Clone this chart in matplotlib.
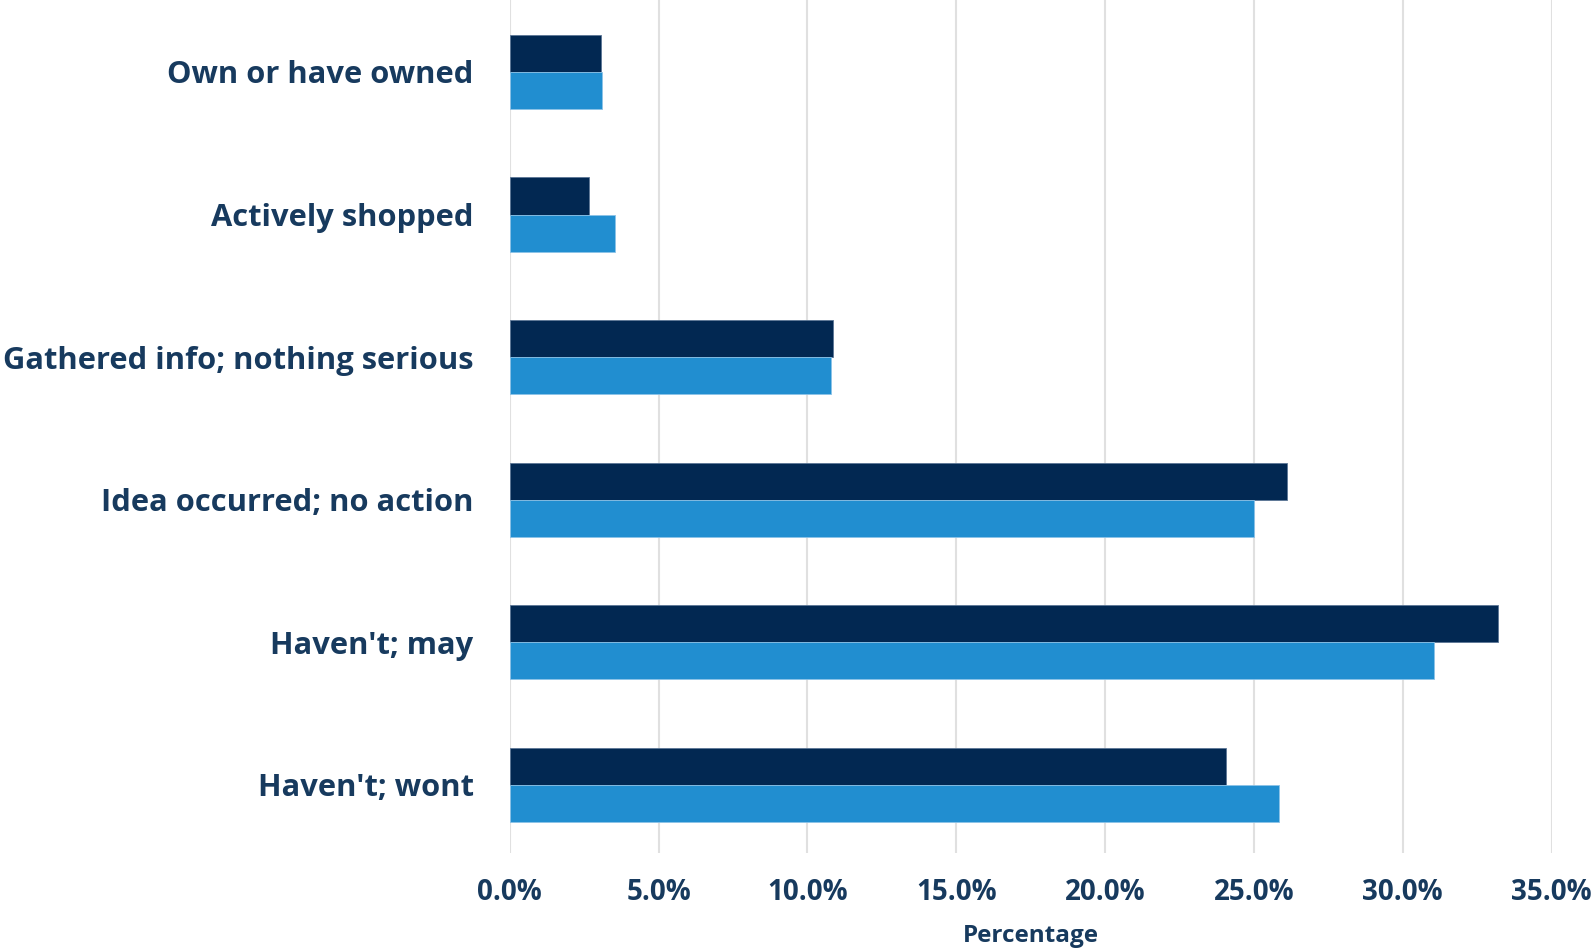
import numpy as np
import matplotlib.pyplot as plt

categories = [
    "Own or have owned",
    "Actively shopped",
    "Gathered info; nothing serious",
    "Idea occurred; no action",
    "Haven't; may",
    "Haven't; wont",
]
series_dark = [3.05, 2.65, 10.85, 26.1, 33.2, 24.05]
series_light = [3.1, 3.55, 10.8, 25.0, 31.05, 25.85]
xticks = [0, 5, 10, 15, 20, 25, 30, 35]

DARK = "#022852"
LIGHT = "#218ed0"
TEXT = "#173a5e"

fig = plt.figure(figsize=(15.93, 9.51), dpi=100)
ax = fig.add_axes([0.320, 0.103, 0.654, 0.897])

y = np.arange(len(categories))
h = 0.26
ax.barh(y - h / 2, series_dark, height=h, color=DARK, edgecolor="#5b7696", linewidth=0.6, zorder=3)
ax.barh(y + h / 2, series_light, height=h, color=LIGHT, edgecolor="#8cc3e8", linewidth=0.6, zorder=3)

ax.set_ylim(len(categories) - 0.52, -0.505)
ax.set_xlim(0, 35)
ax.set_xticks(xticks)
ax.set_xticklabels([f"{v:.1f}%" for v in xticks])
ax.set_yticks(y)
ax.set_yticklabels(categories)

for lab in ax.get_yticklabels():
    lab.set_fontfamily("Open Sans")
    lab.set_fontweight("bold")
    lab.set_fontsize(22.2)
    lab.set_color(TEXT)
for lab in ax.get_xticklabels():
    lab.set_fontfamily("Open Sans")
    lab.set_fontweight("bold")
    lab.set_fontsize(20)
    lab.set_color(TEXT)

ax.tick_params(axis="y", length=0, pad=26)
ax.tick_params(axis="x", length=0, pad=18)
ax.grid(axis="x", color="#e0e0e0", linewidth=1.5, zorder=0)
for s in ax.spines.values():
    s.set_visible(False)

ax.set_xlabel("Percentage", fontfamily="Open Sans", fontweight="bold", fontsize=17.5, color=TEXT, labelpad=12)

fig.savefig("out.png", dpi=100)
